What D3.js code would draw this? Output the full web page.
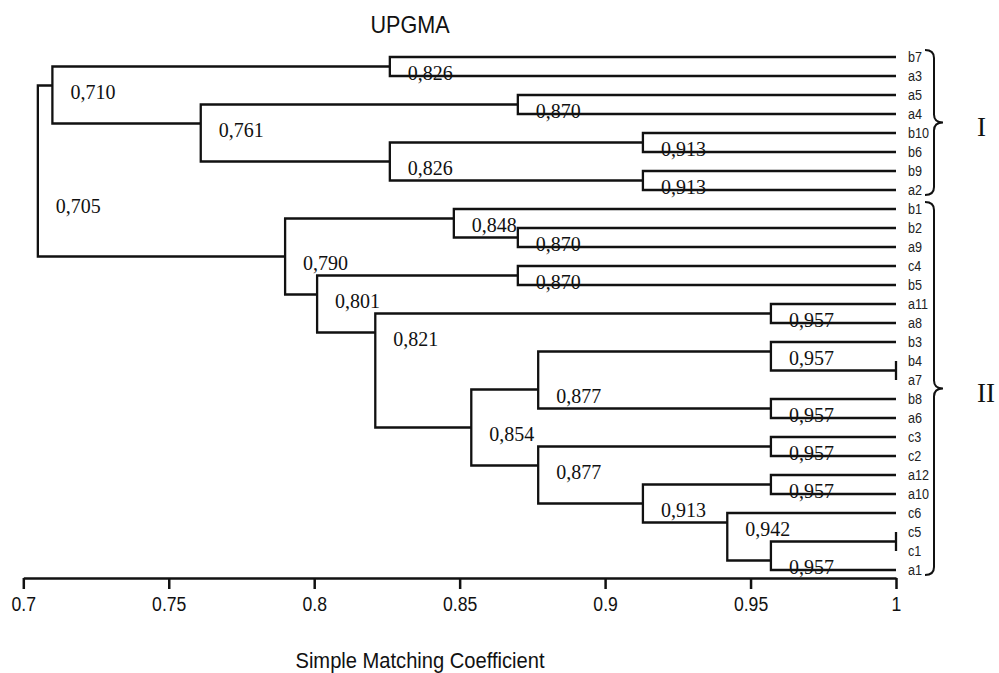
<!DOCTYPE html>
<html>
<head>
<meta charset="utf-8">
<script src="https://cdn.jsdelivr.net/npm/d3@7"></script>
<style>
  html, body { margin: 0; padding: 0; background: #fff; }
  svg { display: block; }
</style>
</head>
<body>
<svg id="chart" width="999" height="673"></svg>
<script>
// ---------- data ----------
const title = "UPGMA";
const axisTitle = "Simple Matching Coefficient";
const leaves = ["b7","a3","a5","a4","b10","b6","b9","a2","b1","b2","a9","c4","b5",
  "a11","a8","b3","b4","a7","b8","a6","c3","c2","a12","a10","c6","c5","c1","a1"];
// linkage table: [node, first child, second child, similarity]
const merges = [
  ["n1","b7","a3",0.826],
  ["n2","a5","a4",0.870],
  ["n3","b10","b6",0.913],
  ["n4","b9","a2",0.913],
  ["n5","n3","n4",0.826],
  ["n6","n2","n5",0.761],
  ["n7","n1","n6",0.710],
  ["n8","b2","a9",0.870],
  ["n9","b1","n8",0.848],
  ["n10","c4","b5",0.870],
  ["n11","a11","a8",0.957],
  ["n12","b4","a7",1.000],
  ["n13","b3","n12",0.957],
  ["n14","b8","a6",0.957],
  ["n15","n13","n14",0.877],
  ["n16","c3","c2",0.957],
  ["n17","a12","a10",0.957],
  ["n18","c5","c1",1.000],
  ["n19","n18","a1",0.957],
  ["n20","c6","n19",0.942],
  ["n21","n17","n20",0.913],
  ["n22","n16","n21",0.877],
  ["n23","n15","n22",0.854],
  ["n24","n11","n23",0.821],
  ["n25","n10","n24",0.801],
  ["n26","n9","n25",0.790],
  ["n27","n7","n26",0.705]
];
const tickValues = [0.7, 0.75, 0.8, 0.85, 0.9, 0.95, 1];
const groupNames = ["I", "II"];
const groupFirst = ["b7", "b1"];
const groupLast = ["a2", "a1"];

// ---------- build tree ----------
const nodes = {};
leaves.forEach(l => nodes[l] = { name: l, sim: 1.0 });
merges.forEach(([n, a, b, s]) => nodes[n] = { name: n, sim: s, children: [nodes[a], nodes[b]] });
const root = d3.hierarchy(nodes[merges[merges.length - 1][0]], d => d.children);

// ---------- scales ----------
const x = d3.scaleLinear().domain([0.7, 1.0]).range([23.3, 896]);
const y = d3.scalePoint().domain(leaves).range([57, 570]);

root.leaves().forEach(l => l.y = y(l.data.name));
root.eachAfter(n => {
  n.x = x(n.data.sim);
  if (n.children) {
    const a = n.children[0].leaves(), b = n.children[1].leaves();
    n.y = (a[a.length - 1].y + b[0].y) / 2;
  }
});

const svg = d3.select("#chart");
const ink = "#111";

// ---------- branches ----------
const g = svg.append("g");
root.descendants().filter(n => n.children).forEach(n => {
  const [c0, c1] = n.children;
  g.append("path")
    .attr("d", `M${c0.x},${c0.y}H${n.x}V${c1.y}H${c1.x}`)
    .attr("fill", "none")
    .attr("stroke", ink)
    .attr("stroke-width", 2.3)
    .attr("stroke-linejoin", "miter");
});

// ---------- node similarity labels ----------
const commaFmt = d3.formatLocale({ decimal: ",", thousands: ".", grouping: [3], currency: ["", ""] }).format(".3f");
root.descendants().filter(n => n.children && n.data.sim < 1).forEach(n => {
  svg.append("text")
    .attr("x", n.x + 18)
    .attr("y", n.y + 13.8)
    .attr("font-family", "'Liberation Serif','Times New Roman',serif")
    .attr("font-size", 20)
    .attr("fill", ink)
    .text(commaFmt(n.data.sim));
});

// ---------- leaf labels ----------
root.leaves().forEach(l => {
  svg.append("text")
    .attr("transform", `translate(${x(1) + 12},${l.y + 4.8}) scale(0.84,1)`)
    .attr("font-family", "'Liberation Sans',Arial,sans-serif")
    .attr("font-size", 15)
    .attr("fill", "#222")
    .text(l.data.name);
});

// ---------- braces ----------
function bracePath(xl, y0, y1) {
  const xm = xl + 9, xt = xl + 18, r = 8, ym = (y0 + y1) / 2;
  return `M${xl},${y0}Q${xm},${y0} ${xm},${y0 + r}` +
         `L${xm},${ym - r}Q${xm},${ym} ${xt},${ym}` +
         `Q${xm},${ym} ${xm},${ym + r}` +
         `L${xm},${y1 - r}Q${xm},${y1} ${xl},${y1}`;
}
groupNames.forEach((name, i) => {
  const y0 = y(groupFirst[i]) - 7, y1 = y(groupLast[i]) + 5;
  svg.append("path")
    .attr("d", bracePath(925, y0, y1))
    .attr("fill", "none")
    .attr("stroke", ink)
    .attr("stroke-width", 2);
  svg.append("text")
    .attr("x", 977)
    .attr("y", (y0 + y1) / 2 + 13.5)
    .attr("font-family", "'Liberation Serif','Times New Roman',serif")
    .attr("font-size", 27)
    .attr("fill", ink)
    .text(name);
});

// ---------- axis ----------
const axis = d3.axisBottom(x)
  .tickValues(tickValues)
  .tickFormat(d3.format("~g"))
  .tickSizeInner(11)
  .tickSizeOuter(0)
  .tickPadding(7);
const ax = svg.append("g").attr("transform", "translate(0,578)").call(axis);
ax.select(".domain").attr("stroke", ink).attr("stroke-width", 2.5);
ax.selectAll(".tick line").attr("stroke", ink).attr("stroke-width", 2.5);
ax.selectAll(".tick text")
  .attr("font-family", "'Liberation Sans',Arial,sans-serif")
  .attr("font-size", 21)
  .attr("fill", ink)
  .attr("transform", "scale(0.84,1)");

// ---------- titles ----------
svg.append("text")
  .attr("transform", "translate(410,33) scale(0.92,1)")
  .attr("text-anchor", "middle")
  .attr("font-family", "'Liberation Sans',Arial,sans-serif")
  .attr("font-size", 23.5)
  .attr("fill", ink)
  .text(title);
svg.append("text")
  .attr("transform", "translate(420,668) scale(0.915,1)")
  .attr("text-anchor", "middle")
  .attr("font-family", "'Liberation Sans',Arial,sans-serif")
  .attr("font-size", 22)
  .attr("fill", ink)
  .text(axisTitle);
</script>
</body>
</html>
